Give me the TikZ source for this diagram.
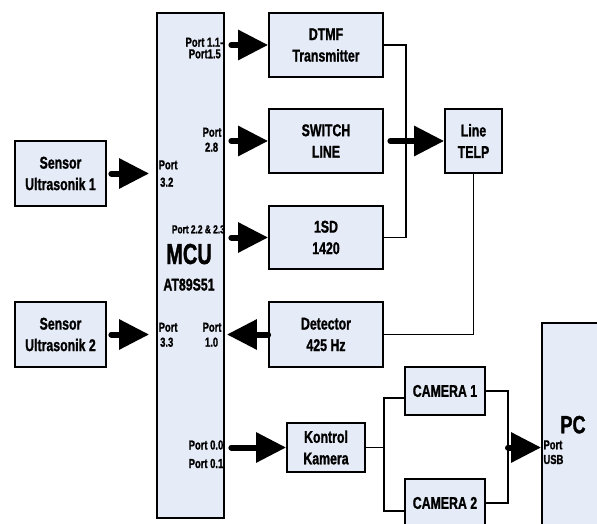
\documentclass[tikz,border=0pt]{standalone}
\usepackage{fontspec}
\setmainfont{Liberation Sans}[FakeStretch=0.725, FakeBold=1.2]
\newfontfamily\mcufont{Liberation Sans}[FakeStretch=0.69, FakeBold=1.2]
\usetikzlibrary{arrows.meta,calc}
\definecolor{boxfill}{RGB}{230,236,247}
\newcommand\boxfont{\bfseries\fontsize{17}{21.5}\selectfont}
\newcommand\portfont{\bfseries\fontsize{13}{13}\selectfont}
\begin{document}
\begin{tikzpicture}[x=1pt,y=-1pt,
  box/.style={draw, line width=1.8pt, fill=boxfill, inner sep=0pt, align=center, font=\boxfont},
  lbl/.style={inner sep=0pt, font=\portfont},
  bigarrow/.style={line width=6pt, line cap=round, -{Triangle[length=30pt,width=29pt]}},
  wire/.style={line width=1.6pt}]
\useasboundingbox (0,0) rectangle (597,524);
\clip (0,0) rectangle (597,524);
% boxes
\node[box, minimum width=67pt, minimum height=505pt] (mcu) at (190.5,265.5) {};
\node[box, minimum width=114pt, minimum height=64pt] (dtmf) at (326,45) {DTMF\\Transmitter};
\node[box, minimum width=114pt, minimum height=64pt] (sw) at (326,141) {SWITCH\\LINE};
\node[box, minimum width=114pt, minimum height=63pt] (isd) at (326,237.5) {1SD\\1420};
\node[box, minimum width=114pt, minimum height=65pt] (det) at (326,334.5) {Detector\\425 Hz};
\node[box, minimum width=57pt, minimum height=64pt] (telp) at (473.5,141) {Line\\TELP};
\node[box, minimum width=91pt, minimum height=65pt] (s1) at (60.5,173.5) {Sensor\\Ultrasonik 1};
\node[box, minimum width=91pt, minimum height=65pt] (s2) at (60.5,334.5) {Sensor\\Ultrasonik 2};
\node[box, minimum width=78pt, minimum height=49pt] (kk) at (326,447.5) {Kontrol\\Kamera};
\node[box, minimum width=80pt, minimum height=48pt] (c1) at (445,391) {CAMERA 1};
\node[box, minimum width=80pt, minimum height=48pt] (c2) at (445,503) {CAMERA 2};
\node[box, minimum width=80pt, minimum height=240pt] (pc) at (582,443) {};
% labels inside MCU
\node[lbl, anchor=base east] (l11) at (223.5,46.7) {Port 1.1-};
\node[lbl, anchor=base east] (l15) at (221,58.3) {Port1.5};
\node[lbl, anchor=base east] (l28a) at (221.7,136.7) {Port};
\node[lbl, anchor=base east] (l28b) at (218.3,151.7) {2.8};
\node[lbl, anchor=base west] (l32a) at (158.5,169.3) {Port};
\node[lbl, anchor=base west] (l32b) at (160,186.7) {3.2};
\node[lbl, anchor=base east, font=\bfseries\fontsize{11.5}{11.5}\selectfont] (l22) at (225,233.3) {Port 2.2 \& 2.3};
\node[inner sep=0pt, anchor=base, font=\mcufont\bfseries\fontsize{29}{29}\selectfont] (mcut) at (189,264) {MCU};
\node[inner sep=0pt, anchor=base, font=\boxfont] (atm) at (189,290.5) {AT89S51};
\node[lbl, anchor=base west] (l33a) at (158.5,331.7) {Port};
\node[lbl, anchor=base west] (l33b) at (160,346.7) {3.3};
\node[lbl, anchor=base east] (l10a) at (221.7,331.7) {Port};
\node[lbl, anchor=base east] (l10b) at (218.3,346.7) {1.0};
\node[lbl, anchor=base east] (l00) at (223.5,449.5) {Port 0.0};
\node[lbl, anchor=base east] (l01) at (223.5,468) {Port 0.1};
% labels inside PC
\node[lbl, anchor=base west] (usba) at (543.3,449.3) {Port};
\node[lbl, anchor=base west] (usbb) at (543.3,464) {USB};
\node[inner sep=0pt, anchor=base, font=\bfseries\fontsize{25}{25}\selectfont] (pct) at (573,433.3) {PC};
% thin wires
\draw[wire] (dtmf.east) -- ++(22,0) coordinate (ja) |- (isd.east);
\draw[wire] (telp.south) |- (det.east);
\draw[wire] (kk.east) -- ++(18,0) coordinate (jb);
\draw[wire] ($(c1.west)+(0,7)$) -| (jb) |- ($(c2.west)+(0,8)$);
\coordinate (rb) at (508,447.5);
\draw[wire] (c1.east) -| (rb) |- (c2.east);
% big arrows
\draw[bigarrow, shorten <=6.5pt] (mcu.east |- dtmf.west) -- (dtmf.west);
\draw[bigarrow, shorten <=6.5pt] (mcu.east |- sw.west) -- (sw.west);
\draw[bigarrow, shorten <=6.5pt] (mcu.east |- isd.west) -- (isd.west);
\draw[bigarrow, shorten <=4.5pt, shorten >=7pt] (s1.east) -- (s1.east -| mcu.west);
\draw[bigarrow, shorten <=4.5pt, shorten >=7pt] (s2.east) -- (s2.east -| mcu.west);
\draw[bigarrow, shorten >=2pt] (det.west) -- (det.west -| mcu.east);
\draw[bigarrow, shorten <=6.5pt] (mcu.east |- kk.west) -- (kk.west);
\draw[bigarrow, shorten <=6.5pt] (sw.east) -- (telp.west);
\draw[bigarrow] (rb) -- (pc.west |- rb);
\end{tikzpicture}
\end{document}
